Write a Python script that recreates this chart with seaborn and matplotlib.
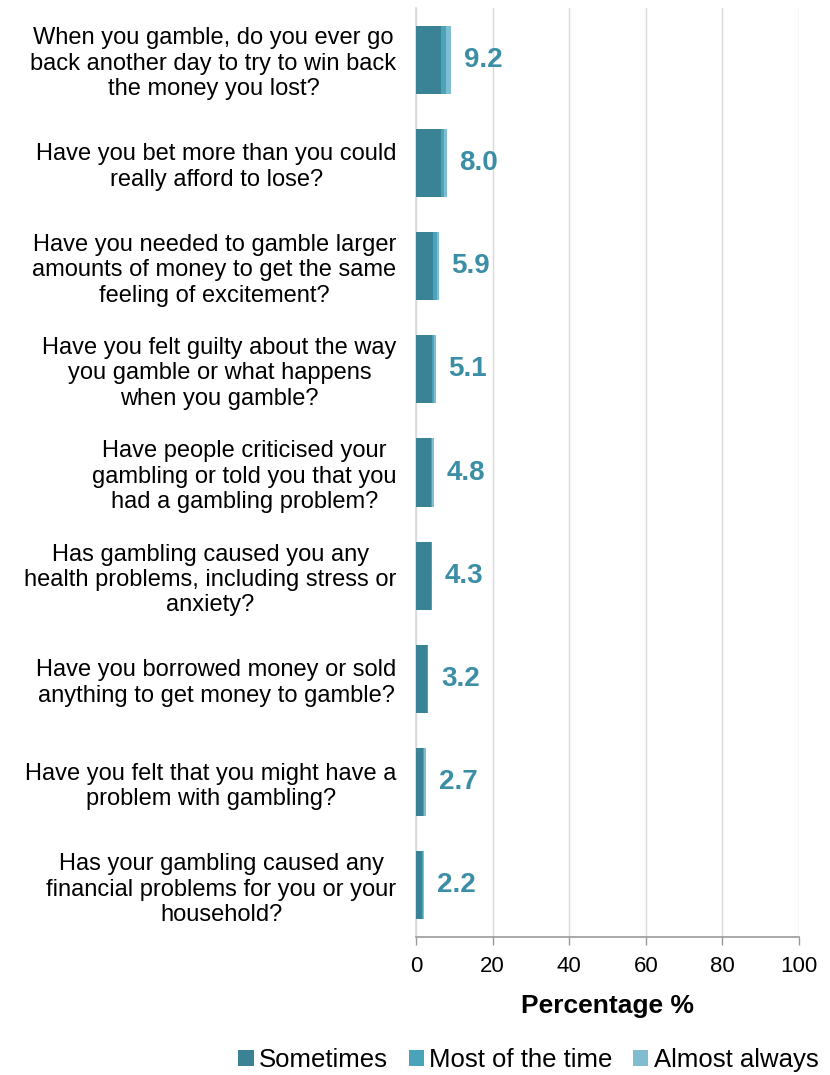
import matplotlib
matplotlib.use("Agg")
import matplotlib.pyplot as plt
import seaborn as sns
import pandas as pd
import numpy as np
from matplotlib.patches import Patch

questions = [
    "When you gamble, do you ever go\nback another day to try to win back\nthe money you lost?",
    "Have you bet more than you could\nreally afford to lose?",
    "Have you needed to gamble larger\namounts of money to get the same\nfeeling of excitement?",
    "Have you felt guilty about the way\nyou gamble or what happens\nwhen you gamble?",
    "Have people criticised your\ngambling or told you that you\nhad a gambling problem?",
    "Has gambling caused you any\nhealth problems, including stress or\nanxiety?",
    "Have you borrowed money or sold\nanything to get money to gamble?",
    "Have you felt that you might have a\nproblem with gambling?",
    "Has your gambling caused any\nfinancial problems for you or your\nhousehold?",
]
sometimes = [6.5, 6.5, 4.4, 4.2, 3.9, 3.9, 2.9, 1.9, 1.6]
most_of_time = [1.4, 0.9, 1.0, 0.6, 0.4, 0.3, 0.2, 0.3, 0.3]
almost_always = [1.3, 0.6, 0.5, 0.3, 0.5, 0.1, 0.1, 0.5, 0.3]
series_names = ["Sometimes", "Most of the time", "Almost always"]
x_ticks = [0, 20, 40, 60, 80, 100]

colors = ["#3a8397", "#4aa3b9", "#80bdd0"]
label_color = "#3b8ea6"

sns.set_theme(style="white")
plt.rcParams["font.family"] = ["Liberation Sans", "DejaVu Sans"]

df = pd.DataFrame({
    "question": questions,
    "s": sometimes,
    "m": most_of_time,
    "a": almost_always,
})
df["c1"] = df["s"]
df["c2"] = df["s"] + df["m"]
df["c3"] = df["s"] + df["m"] + df["a"]

fig = plt.figure(figsize=(8.3, 10.75), dpi=100)
ax = fig.add_axes([416 / 830, 1 - 937 / 1075, 383 / 830, (937 - 8) / 1075])

# stacked bars drawn as overlaid cumulative totals
for col, color in zip(["c3", "c2", "c1"], colors[::-1]):
    sns.barplot(data=df, x=col, y="question", orient="h", color=color,
                width=0.66, saturation=1, linewidth=0, edgecolor="none",
                ax=ax, zorder=3)

for i, tot in enumerate(df["c3"]):
    ax.text(tot + 3.3, i, f"{tot:.1f}", va="center", ha="left",
            fontsize=20, fontweight="bold", color=label_color, zorder=4)

ax.set_xlim(0, 100)
ax.set_xticks(x_ticks)
ax.set_xticklabels([str(t) for t in x_ticks], fontsize=16, color="#000000")
ax.set_xlabel("Percentage %", fontsize=19, fontweight="bold", labelpad=12,
              color="#000000")
ax.set_ylabel("")
ax.set_yticks(range(len(questions)))
ax.set_yticklabels(questions, fontsize=17, ha="right", multialignment="center",
                   linespacing=1.2, color="#000000")
ax.tick_params(axis="y", length=0, pad=14)
ax.tick_params(axis="x", direction="out", length=6, width=1, color="#999999",
               bottom=True, pad=8)

ax.xaxis.grid(True, color="#d9d9d9", linewidth=1, zorder=0)
ax.set_axisbelow(True)
for side in ["top", "right"]:
    ax.spines[side].set_visible(False)
ax.spines["left"].set_color("#d9d9d9")
ax.spines["bottom"].set_color("#999999")
ax.spines["bottom"].set_linewidth(1.2)

handles = [Patch(facecolor=c, edgecolor="none") for c in colors]
leg = fig.legend(handles, series_names, loc="lower right", ncol=3,
                 bbox_to_anchor=(0.986, 0.003), frameon=False, fontsize=18.5,
                 borderaxespad=0, borderpad=0,
                 handlelength=0.6, handleheight=0.6, handletextpad=0.2,
                 columnspacing=0.8)
for t in leg.get_texts():
    t.set_color("#000000")

fig.savefig("out.png", dpi=100)
